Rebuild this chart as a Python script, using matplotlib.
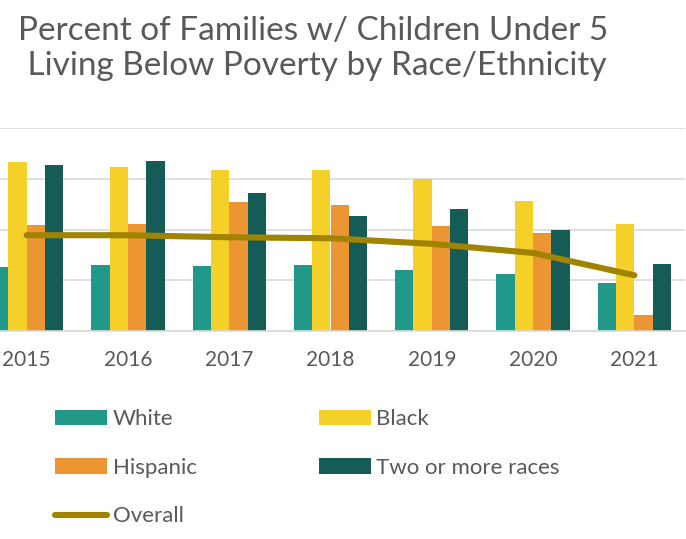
import numpy as np
import matplotlib
matplotlib.use('Agg')
import matplotlib.pyplot as plt

plt.rcParams['font.family'] = ['Lato', 'DejaVu Sans']

years = ['2015', '2016', '2017', '2018', '2019', '2020', '2021']
white = [12.6, 13.0, 12.8, 13.0, 12.0, 11.2, 9.4]
black = [33.4, 32.3, 31.8, 31.8, 29.9, 25.6, 21.1]
hispanic = [21.0, 21.2, 25.4, 24.9, 20.8, 19.4, 3.2]
two_more = [32.7, 33.5, 27.2, 22.6, 24.1, 20.0, 13.2]
overall = [18.9, 18.9, 18.5, 18.3, 17.2, 15.4, 11.0]

grey = '#595959'
colors = ['#20998a', '#f5d029', '#eb9533', '#145c55']

fig = plt.figure(figsize=(6.86, 5.39), dpi=100)
# plot area is wider than the figure (cropped on the left in the reference)
ax = fig.add_axes([-24 / 686, 208 / 539, 709 / 686, 202.7 / 539])

x = np.arange(len(years))
w = 0.181
series = [white, black, hispanic, two_more]
names = ['White', 'Black', 'Hispanic', 'Two or more races']
bars = []
for i, (vals, c, n) in enumerate(zip(series, colors, names)):
    b = ax.bar(x + (i - 1.5) * w, vals, w, color=c, label=n, zorder=2)
    bars.append(b)

line, = ax.plot(x, overall, color='#a08400', lw=4.4, solid_capstyle='round',
                label='Overall', zorder=3)

ax.set_xlim(-0.5, 6.5)
ax.set_ylim(0, 40)
ax.set_yticks([0, 10, 20, 30, 40])
ax.set_yticklabels([])
ax.grid(axis='y', color='#d9d9d9', lw=1.2, zorder=0)
ax.set_axisbelow(True)
for s in ['top', 'right', 'left']:
    ax.spines[s].set_visible(False)
ax.spines['bottom'].set_color('#d9d9d9')
ax.spines['bottom'].set_linewidth(1.2)
ax.set_xticks(x)
ax.set_xticklabels(years, fontsize=15, color=grey)
ax.tick_params(axis='x', length=0, pad=14)
ax.tick_params(axis='y', length=0)

fig.text(313 / 686, 1 - 40 / 539, 'Percent of Families w/ Children Under 5',
         ha='center', va='baseline', fontsize=24, color=grey)
fig.text(313 / 686, 1 - 75 / 539, ' Living Below Poverty by Race/Ethnicity',
         ha='center', va='baseline', fontsize=24, color=grey)

handles = [bars[0], bars[2], line, bars[1], bars[3]]
labels = ['White', 'Hispanic', 'Overall', 'Black', 'Two or more races']
leg = fig.legend(handles, labels, loc='upper left',
                 bbox_to_anchor=(55 / 686, 1 - 409 / 539), ncol=2,
                 frameon=False, fontsize=16, borderpad=0, borderaxespad=0,
                 handlelength=2.34, handleheight=0.68, handletextpad=0.25,
                 labelspacing=1.29, columnspacing=5.5)
for t in leg.get_texts():
    t.set_color(grey)

plt.savefig('out.png', dpi=100)
